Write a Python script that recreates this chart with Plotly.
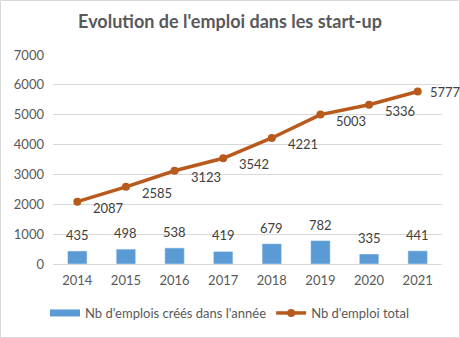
import plotly.graph_objects as go

years = ["2014", "2015", "2016", "2017", "2018", "2019", "2020", "2021"]
created = [435, 498, 538, 419, 679, 782, 335, 441]
total = [2087, 2585, 3123, 3542, 4221, 5003, 5336, 5777]
y_ticks = [0, 1000, 2000, 3000, 4000, 5000, 6000, 7000]

W, H = 460, 338
L, R, T, B = 53, 18, 55, 74
FONT = "Lato, Open Sans, sans-serif"
BLUE = "#5B9BD5"
BROWN = "#B85A1C"
FS = 13

fig = go.Figure()
fig.add_trace(go.Bar(
    x=years, y=created, name="Nb d'emplois créés dans l'année",
    marker_color=BLUE, showlegend=False,
))
# legend entry for the bars (wide flat swatch like the original)
fig.add_trace(go.Scatter(
    x=[None], y=[None], name="Nb d'emplois créés dans l'année", mode="lines",
    line=dict(color=BLUE, width=7),
))
fig.add_trace(go.Scatter(
    x=years, y=total, name="Nb d'emploi total", mode="lines+markers",
    line=dict(color=BROWN, width=3.5), marker=dict(size=8, color=BROWN),
))
for i, v in enumerate(created):
    fig.add_annotation(x=i, y=v, text=str(v), showarrow=False,
                       xanchor="center", yanchor="middle", yshift=16,
                       font=dict(size=FS, color="#404040", family=FONT))
for i, v in enumerate(total):
    last = i == len(years) - 1
    fig.add_annotation(x=i, y=v, text=str(v), showarrow=False,
                       xanchor="left", yanchor="middle",
                       xshift=10 if last else 14, yshift=0 if last else -6,
                       font=dict(size=FS, color="#404040", family=FONT))

pw = W - L - R
ph = H - T - B
fig.add_shape(type="rect", xref="paper", yref="paper",
              x0=(-L + 0.5) / pw, x1=1 + (R - 0.5) / pw,
              y0=(-B + 0.5) / ph, y1=1 + (T - 0.5) / ph,
              line=dict(color="#D9D9D9", width=1), layer="below")

fig.update_layout(
    width=W, height=H, margin=dict(l=L, r=R, t=T, b=B),
    paper_bgcolor="white", plot_bgcolor="white",
    font=dict(family=FONT, size=FS, color="#595959"),
    title=dict(text="<b>Evolution de l'emploi dans les start-up</b>",
               x=0.5, xref="container", xanchor="center", y=1 - 22 / H, yanchor="middle",
               font=dict(size=18, color="#595959", family=FONT)),
    bargap=0.6,
    showlegend=True,
    legend=dict(orientation="h", x=0.5, xref="container", xanchor="center",
                y=(H - 313) / H, yref="container", yanchor="middle",
                font=dict(size=FS, color="#595959"), itemwidth=30, traceorder="normal"),
    xaxis=dict(type="category", range=[-0.5, len(years) - 0.5], showgrid=False,
               showline=True, linecolor="#D9D9D9", ticklabelstandoff=4, automargin=False,
               ticks="", tickfont=dict(size=FS, color="#595959")),
    yaxis=dict(range=[0, 7000], tickvals=y_ticks, showgrid=True, gridcolor="#D9D9D9",
               zeroline=False, showline=False, ticks="", ticklabelstandoff=8,
               automargin=False, tickfont=dict(size=FS, color="#595959")),
)

fig.write_html("out.html")
